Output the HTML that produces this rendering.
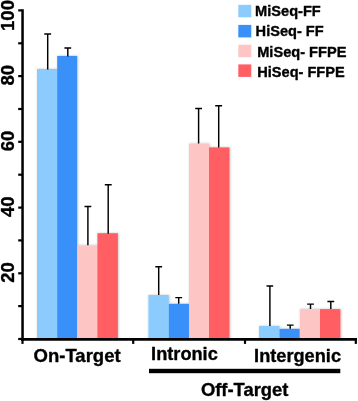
<!DOCTYPE html>
<html><head><meta charset="utf-8"><title>chart</title>
<style>
html,body{margin:0;padding:0;background:#fff;}
body{width:358px;height:401px;overflow:hidden;}
svg{display:block}
text{font-family:"Liberation Sans",sans-serif;font-weight:bold;fill:#000;stroke:#000;stroke-width:0.35px;stroke-linejoin:round;}
</style></head><body>
<svg width="358" height="401" viewBox="0 0 358 401">
<defs><filter id="sh" x="-5%" y="-5%" width="110%" height="110%"><feDropShadow dx="0.6" dy="0" stdDeviation="0.8" flood-color="#000" flood-opacity="0.25"/></filter></defs>
<rect width="358" height="401" fill="#fff"/>
<g filter="url(#sh)">
<rect x="37.0" y="69.0" width="20.2" height="270.0" fill="#8ccbfd"/>
<rect x="57.2" y="55.9" width="20.0" height="283.1" fill="#3890f8"/>
<rect x="77.2" y="245.3" width="20.2" height="93.7" fill="#fdc6c5"/>
<rect x="97.4" y="233.2" width="20.5" height="105.8" fill="#ff5e63"/>
<rect x="148.4" y="295.0" width="20.4" height="44.0" fill="#8ccbfd"/>
<rect x="168.8" y="303.8" width="20.2" height="35.2" fill="#3890f8"/>
<rect x="189.0" y="143.5" width="20.0" height="195.5" fill="#fdc6c5"/>
<rect x="209.0" y="147.4" width="20.5" height="191.6" fill="#ff5e63"/>
<rect x="259.0" y="325.9" width="20.5" height="13.1" fill="#8ccbfd"/>
<rect x="279.5" y="328.8" width="20.3" height="10.2" fill="#3890f8"/>
<rect x="299.8" y="309.1" width="20.2" height="29.9" fill="#fdc6c5"/>
<rect x="320.0" y="309.1" width="20.4" height="29.9" fill="#ff5e63"/>
</g>
<path d="M47.7 69.5V33.4M44.3 33.9H51.1" stroke="#000" stroke-width="1.45" fill="none"/>
<path d="M67.8 56.4V47.5M64.4 48.0H71.2" stroke="#000" stroke-width="1.45" fill="none"/>
<path d="M87.9 245.3V205.9M84.5 206.4H91.3" stroke="#000" stroke-width="1.45" fill="none"/>
<path d="M108.2 233.8V184.2M104.8 184.7H111.7" stroke="#000" stroke-width="1.45" fill="none"/>
<path d="M158.7 295.0V266.2M155.3 266.7H162.1" stroke="#000" stroke-width="1.45" fill="none"/>
<path d="M178.7 303.8V297.1M175.3 297.6H182.1" stroke="#000" stroke-width="1.45" fill="none"/>
<path d="M198.6 143.5V107.9M195.2 108.4H202.0" stroke="#000" stroke-width="1.45" fill="none"/>
<path d="M218.7 147.4V105.3M215.2 105.8H222.1" stroke="#000" stroke-width="1.45" fill="none"/>
<path d="M269.9 325.9V285.5M266.5 286.0H273.2" stroke="#000" stroke-width="1.45" fill="none"/>
<path d="M290.2 328.8V324.6M286.9 325.1H293.6" stroke="#000" stroke-width="1.45" fill="none"/>
<path d="M310.5 309.1V303.6M307.1 304.1H313.9" stroke="#000" stroke-width="1.45" fill="none"/>
<path d="M330.8 309.1V300.9M327.4 301.4H334.2" stroke="#000" stroke-width="1.45" fill="none"/>
<path d="M22.55 9.3V341" stroke="#000" stroke-width="2.5" fill="none"/>
<path d="M21.3 339.4H357" stroke="#000" stroke-width="2.6" fill="none"/>
<path d="M18.2 339.0H22" stroke="#000" stroke-width="2.2" fill="none"/>
<path d="M18.2 306.1H22" stroke="#000" stroke-width="2.2" fill="none"/>
<path d="M18.2 273.3H22" stroke="#000" stroke-width="2.2" fill="none"/>
<path d="M18.2 240.4H22" stroke="#000" stroke-width="2.2" fill="none"/>
<path d="M18.2 207.6H22" stroke="#000" stroke-width="2.2" fill="none"/>
<path d="M18.2 174.7H22" stroke="#000" stroke-width="2.2" fill="none"/>
<path d="M18.2 141.8H22" stroke="#000" stroke-width="2.2" fill="none"/>
<path d="M18.2 109.0H22" stroke="#000" stroke-width="2.2" fill="none"/>
<path d="M18.2 76.1H22" stroke="#000" stroke-width="2.2" fill="none"/>
<path d="M18.2 43.3H22" stroke="#000" stroke-width="2.2" fill="none"/>
<path d="M18.2 10.4H22" stroke="#000" stroke-width="2.2" fill="none"/>
<path d="M22.5 339.0V343.9" stroke="#000" stroke-width="2.2" fill="none"/>
<path d="M133.2 339.0V343.9" stroke="#000" stroke-width="2.2" fill="none"/>
<path d="M245.0 339.0V343.9" stroke="#000" stroke-width="2.2" fill="none"/>
<path d="M355.8 339.0V343.9" stroke="#000" stroke-width="2.2" fill="none"/>
<g opacity="0.999">
<text transform="translate(14.3 272.4) rotate(-90)" text-anchor="middle" font-size="18.5">20</text>
<text transform="translate(14.3 206.7) rotate(-90)" text-anchor="middle" font-size="18.5">40</text>
<text transform="translate(14.3 140.9) rotate(-90)" text-anchor="middle" font-size="18.5">60</text>
<text transform="translate(14.3 75.2) rotate(-90)" text-anchor="middle" font-size="18.5">80</text>
<text transform="translate(14.3 15.5) rotate(-90)" text-anchor="middle" font-size="18.5">100</text>
<text x="33.6" y="361.8" font-size="18.5">On-Target</text>
<text x="151.1" y="360.2" font-size="18.2">Intronic</text>
<text x="254.1" y="362.3" font-size="18.2">Intergenic</text>
<rect x="149" y="368.8" width="191.3" height="4.4" fill="#000"/>
<text x="200.9" y="395.8" font-size="18.4">Off-Target</text>
<rect x="238.3" y="4.8" width="13" height="12.5" fill="#8ccbfd"/>
<rect x="238.3" y="24.9" width="13" height="12.5" fill="#3890f8"/>
<rect x="238.3" y="44.7" width="13" height="12.5" fill="#fdc6c5"/>
<rect x="238.3" y="64.4" width="13" height="12.5" fill="#ff5e63"/>
<text x="255.1" y="16.3" font-size="14.6">MiSeq-FF</text>
<text x="255.6" y="36.1" font-size="14.6">HiSeq- FF</text>
<text x="257.2" y="57.2" font-size="14.6">MiSeq- FFPE</text>
<text x="257.2" y="77.2" font-size="14.6">HiSeq- FFPE</text>
</g>
</svg>
</body></html>
